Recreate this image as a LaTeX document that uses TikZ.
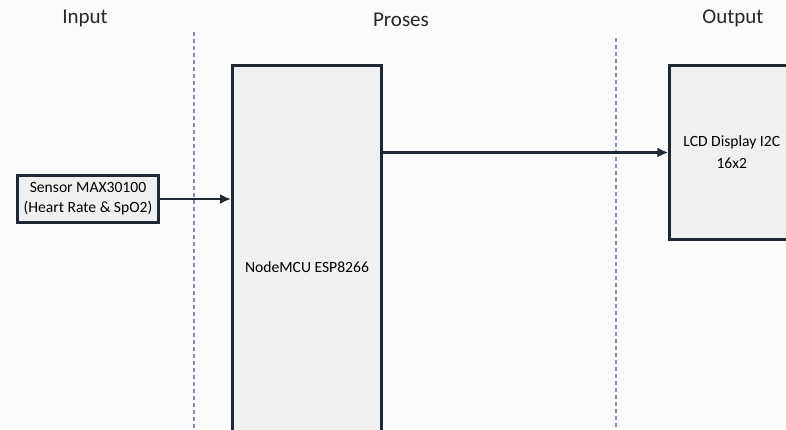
\documentclass[tikz,border=0pt]{standalone}
\usepackage{fontspec}
\setmainfont{Carlito}
\usetikzlibrary{arrows.meta,positioning}
\definecolor{boxfill}{HTML}{F0F0F0}
\definecolor{boxline}{HTML}{1E2833}
\definecolor{sepline}{HTML}{8292AC}
\definecolor{pagebg}{HTML}{FBFBFB}
\tikzset{
  block/.style={draw=boxline, line width=1.5pt, fill=boxfill, inner sep=0pt, align=center, font=\fontsize{7.8}{10}\selectfont},
  title/.style={font=\fontsize{10.5}{12}\selectfont, text=black!85},
  sep/.style={draw=sepline, dash pattern=on 2pt off 1.5pt, line width=0.6pt},
  arr/.style={draw=boxline, line width=1.2pt, -{Latex[length=5.5pt,width=5pt]}}
}
\begin{document}
\begin{tikzpicture}[x=0.5pt,y=-0.5pt]
\fill[pagebg] (0,0) rectangle (786,429);
\useasboundingbox (0,0) rectangle (786,429);
\clip (0,0) rectangle (786,429);

% column headings
\node[title] (hinput) at (85,18) {Input};
\node[title] (hproses) at (401,20) {Proses};
\node[title] (houtput) at (733,18) {Output};

% separators
\coordinate (sepa top) at (194,32);
\coordinate (sepa bot) at (194,429);
\coordinate (sepb top) at (616,38);
\coordinate (sepb bot) at (616,429);
\draw[sep] (sepa top) -- (sepa bot);
\draw[sep] (sepb top) -- (sepb bot);

% blocks
\node[block, minimum width=70.5pt, minimum height=23.5pt] (sensor) at (88,199) {Sensor MAX30100\\(Heart Rate \& SpO2)};
\node[block, minimum width=74.5pt, minimum height=189.5pt] (mcu) at (307,255) {};
\node[font=\fontsize{7.8}{10}\selectfont] (mcutext) at (307,267) {NodeMCU ESP8266};
\node[block, minimum width=62pt, minimum height=87pt, font=\fontsize{7.8}{11}\selectfont] (lcd) at (731.75,152.5) {LCD Display I2C\\16x2};

% connectors
\draw[arr] (sensor.east) -- (sensor.east -| mcu.west);
\draw[arr] (mcu.east |- lcd.west) -- (lcd.west);
\end{tikzpicture}
\end{document}
